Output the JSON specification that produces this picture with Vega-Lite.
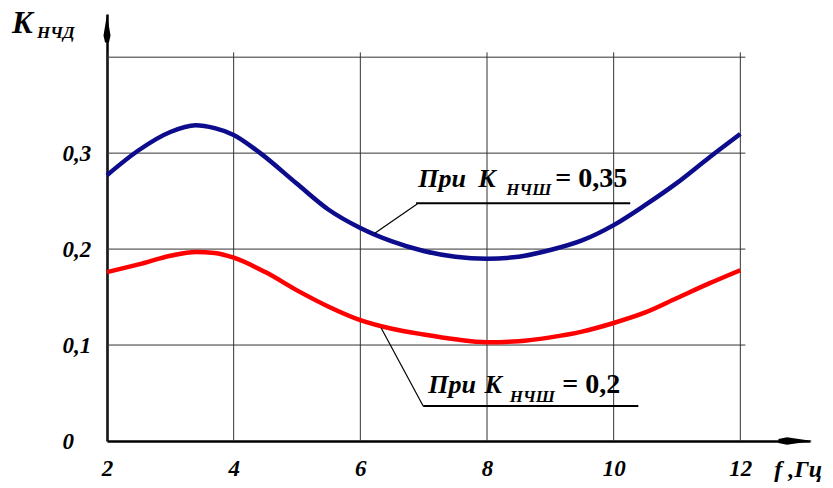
{
  "$schema": "https://vega.github.io/schema/vega-lite/v6.json",
  "width": 703,
  "height": 427,
  "autosize": {"type": "none"},
  "padding": {"left": 107, "top": 14, "right": 23, "bottom": 47},
  "background": "white",
  "config": {
    "view": {"stroke": null},
    "axis": {
      "domainColor": "black",
      "domainWidth": 2.5,
      "ticks": false,
      "tickSize": 0,
      "grid": false,
      "labelFont": "Liberation Serif",
      "labelFontStyle": "italic",
      "labelFontWeight": "bold",
      "labelFontSize": 23,
      "labelColor": "black"
    },
    "text": {"font": "Liberation Serif", "color": "black", "align": "left", "baseline": "alphabetic"}
  },
  "datasets": {
    "curves": [
      {"x": 2, "y": 0.277, "s": "0.35"},
      {"x": 2.5, "y": 0.303, "s": "0.35"},
      {"x": 3, "y": 0.322, "s": "0.35"},
      {"x": 3.4, "y": 0.329, "s": "0.35"},
      {"x": 3.7, "y": 0.326, "s": "0.35"},
      {"x": 4, "y": 0.319, "s": "0.35"},
      {"x": 4.4, "y": 0.301, "s": "0.35"},
      {"x": 5, "y": 0.268, "s": "0.35"},
      {"x": 5.5, "y": 0.241, "s": "0.35"},
      {"x": 6, "y": 0.222, "s": "0.35"},
      {"x": 6.5, "y": 0.208, "s": "0.35"},
      {"x": 7, "y": 0.198, "s": "0.35"},
      {"x": 7.5, "y": 0.192, "s": "0.35"},
      {"x": 8, "y": 0.19, "s": "0.35"},
      {"x": 8.5, "y": 0.192, "s": "0.35"},
      {"x": 9, "y": 0.199, "s": "0.35"},
      {"x": 9.5, "y": 0.209, "s": "0.35"},
      {"x": 10, "y": 0.225, "s": "0.35"},
      {"x": 10.5, "y": 0.246, "s": "0.35"},
      {"x": 11, "y": 0.269, "s": "0.35"},
      {"x": 11.5, "y": 0.295, "s": "0.35"},
      {"x": 12, "y": 0.32, "s": "0.35"},
      {"x": 2, "y": 0.176, "s": "0.2"},
      {"x": 2.5, "y": 0.184, "s": "0.2"},
      {"x": 3, "y": 0.193, "s": "0.2"},
      {"x": 3.4, "y": 0.197, "s": "0.2"},
      {"x": 3.7, "y": 0.196, "s": "0.2"},
      {"x": 4, "y": 0.191, "s": "0.2"},
      {"x": 4.5, "y": 0.176, "s": "0.2"},
      {"x": 5, "y": 0.157, "s": "0.2"},
      {"x": 5.5, "y": 0.14, "s": "0.2"},
      {"x": 6, "y": 0.126, "s": "0.2"},
      {"x": 6.5, "y": 0.117, "s": "0.2"},
      {"x": 7, "y": 0.111, "s": "0.2"},
      {"x": 7.5, "y": 0.106, "s": "0.2"},
      {"x": 8, "y": 0.103, "s": "0.2"},
      {"x": 8.5, "y": 0.104, "s": "0.2"},
      {"x": 9, "y": 0.108, "s": "0.2"},
      {"x": 9.5, "y": 0.114, "s": "0.2"},
      {"x": 10, "y": 0.123, "s": "0.2"},
      {"x": 10.5, "y": 0.134, "s": "0.2"},
      {"x": 11, "y": 0.149, "s": "0.2"},
      {"x": 11.5, "y": 0.164, "s": "0.2"},
      {"x": 12, "y": 0.178, "s": "0.2"}
    ],
    "grid": [
      {"x": 2, "y": 0, "x2": 2, "y2": 0.405},
      {"x": 4, "y": 0, "x2": 4, "y2": 0.405},
      {"x": 6, "y": 0, "x2": 6, "y2": 0.405},
      {"x": 8, "y": 0, "x2": 8, "y2": 0.405},
      {"x": 10, "y": 0, "x2": 10, "y2": 0.405},
      {"x": 12, "y": 0, "x2": 12, "y2": 0.405},
      {"x": 2, "y": 0.1, "x2": 12.08, "y2": 0.1},
      {"x": 2, "y": 0.2, "x2": 12.08, "y2": 0.2},
      {"x": 2, "y": 0.3, "x2": 12.08, "y2": 0.3},
      {"x": 2, "y": 0.4, "x2": 12.08, "y2": 0.4}
    ],
    "leaders": [
      {"x": 6.881, "y": 0.2479, "x2": 10.262, "y2": 0.2479},
      {"x": 6.992, "y": 0.0365, "x2": 10.389, "y2": 0.0365}
    ],
    "thin": [
      {"x": 6.897, "y": 0.2469, "x2": 6.234, "y2": 0.2167},
      {"x": 6.992, "y": 0.0365, "x2": 6.329, "y2": 0.1177}
    ],
    "yarrow": [{"x": 2, "y": 0.43}],
    "xarrow": [{"x": 12.87, "y": 0}],
    "mainText": [
      {"x": 6.913, "y": 0.2646, "t": "При"},
      {"x": 7.861, "y": 0.2646, "t": "K"},
      {"x": 7.071, "y": 0.05, "t": "При"},
      {"x": 7.96, "y": 0.05, "t": "K"}
    ],
    "titleK": [{"x": 0.5, "y": 0.425, "t": "K"}],
    "subText": [
      {"x": 8.303, "y": 0.2563, "t": "НЧШ"},
      {"x": 8.36, "y": 0.0406, "t": "НЧШ"},
      {"x": 0.894, "y": 0.4198, "t": "НЧД"}
    ],
    "numText": [
      {"x": 9.077, "y": 0.2646, "t": "= 0,35"},
      {"x": 9.188, "y": 0.05, "t": "= 0,2"}
    ],
    "xTitle": [{"x": 12.537, "y": -0.0375, "t": "f ,Гц"}]
  },
  "encoding": {
    "x": {
      "field": "x", "type": "quantitative",
      "scale": {"domain": [2, 13.1], "nice": false, "zero": false},
      "axis": {"values": [2, 4, 6, 8, 10, 12], "title": null, "labelPadding": 34, "labelBaseline": "alphabetic", "labelFlush": false}
    },
    "y": {
      "field": "y", "type": "quantitative",
      "scale": {"domain": [0, 0.445], "nice": false, "zero": false},
      "axis": {"values": [0, 0.1, 0.2, 0.3], "title": null, "labelAlign": "left", "labelPadding": 45, "labelBaseline": "middle",
        "labelExpr": "datum.value == 0 ? '0' : replace(format(datum.value, '.1f'), '.', ',')"}
    }
  },
  "layer": [
    {
      "data": {"name": "grid"},
      "mark": {"type": "rule", "color": "#333333", "strokeWidth": 1},
      "encoding": {"x2": {"field": "x2"}, "y2": {"field": "y2"}}
    },
    {
      "data": {"name": "curves"},
      "mark": {"type": "line", "interpolate": "monotone", "strokeWidth": 4.5},
      "encoding": {
        "color": {"field": "s", "type": "nominal", "scale": {"domain": ["0.35", "0.2"], "range": ["#0c0c8c", "#ff0000"]}, "legend": null},
        "order": {"field": "x", "type": "quantitative"}
      }
    },
    {
      "data": {"name": "leaders"},
      "mark": {"type": "rule", "color": "black", "strokeWidth": 2},
      "encoding": {"x2": {"field": "x2"}, "y2": {"field": "y2"}}
    },
    {
      "data": {"name": "thin"},
      "mark": {"type": "rule", "color": "black", "strokeWidth": 1.2},
      "encoding": {"x2": {"field": "x2"}, "y2": {"field": "y2"}}
    },
    {
      "data": {"name": "yarrow"},
      "mark": {"type": "point", "filled": true, "color": "black", "opacity": 1, "size": 784,
        "shape": "M0,-1L0.25,0.5L0.14,1L-0.14,1L-0.25,0.5Z"},
      "encoding": {}
    },
    {
      "data": {"name": "xarrow"},
      "mark": {"type": "point", "filled": true, "color": "black", "opacity": 1, "size": 1156,
        "shape": "M1,0L-0.5,0.22L-1,0.12L-1,-0.12L-0.5,-0.22Z"},
      "encoding": {}
    },
    {
      "data": {"name": "mainText"},
      "mark": {"type": "text", "fontSize": 26, "fontStyle": "italic", "fontWeight": "bold"},
      "encoding": {"text": {"field": "t"}}
    },
    {
      "data": {"name": "titleK"},
      "mark": {"type": "text", "fontSize": 31, "fontStyle": "italic", "fontWeight": "bold"},
      "encoding": {"text": {"field": "t"}}
    },
    {
      "data": {"name": "subText"},
      "mark": {"type": "text", "fontSize": 17, "fontStyle": "italic", "fontWeight": "bold"},
      "encoding": {"text": {"field": "t"}}
    },
    {
      "data": {"name": "numText"},
      "mark": {"type": "text", "fontSize": 28, "fontWeight": "bold"},
      "encoding": {"text": {"field": "t"}}
    },
    {
      "data": {"name": "xTitle"},
      "mark": {"type": "text", "fontSize": 24, "fontStyle": "italic", "fontWeight": "bold"},
      "encoding": {"text": {"field": "t"}}
    }
  ]
}
